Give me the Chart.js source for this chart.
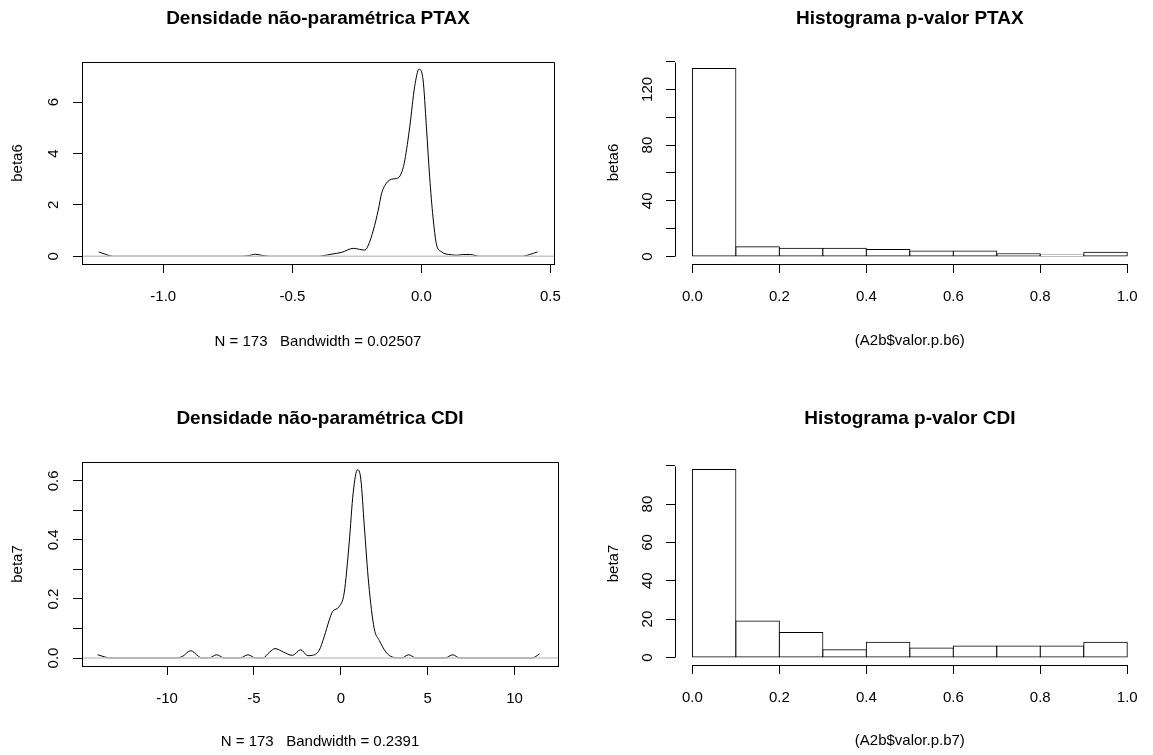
<!DOCTYPE html>
<html>
<head>
<meta charset="utf-8">
<script src="https://cdn.jsdelivr.net/npm/chart.js@4.4.1/dist/chart.umd.min.js"></script>
<style>
    body { margin: 0; background: #fff; width: 1153px; height: 755px; position: relative; overflow: hidden; }
    canvas { position: absolute; }
</style>
</head>
<body>
<canvas id="dens-ptax" width="576" height="390" style="left:0;top:0"></canvas>
<canvas id="hist-ptax" width="577" height="390" style="left:576px;top:0"></canvas>
<canvas id="dens-cdi" width="576" height="355" style="left:0;top:400px"></canvas>
<canvas id="hist-cdi" width="577" height="355" style="left:576px;top:400px"></canvas>
<script>
// density estimate, beta6 (PTAX)
const ptaxDensX = [-1.25, -1.225, -1.195, -0.70, -0.672, -0.643, -0.615, -0.585, -0.40, -0.35, -0.31, -0.263, -0.24, -0.219,
    -0.206, -0.186, -0.167, -0.154, -0.135, -0.115, -0.09, -0.075, -0.064, -0.045, -0.026, -0.009, 0.0066, 0.0195, 0.032,
    0.045, 0.058, 0.077, 0.116, 0.14, 0.16, 0.19, 0.225, 0.39, 0.42, 0.45];
const ptaxDensY = [0.17, 0.08, 0, 0, 0.02, 0.08, 0.03, 0, 0, 0.08, 0.15, 0.31, 0.27, 0.24,
    0.42, 1.02, 1.8, 2.45, 2.85, 3.0, 3.05, 3.3, 3.75, 5.04, 6.6, 7.28, 6.86, 5.04, 3.1,
    1.53, 0.49, 0.18, 0.06, 0.04, 0.07, 0.07, 0, 0, 0.07, 0.17];

// density estimate, beta7 (CDI)
const cdiDensX = [-14.0, -13.6, -13.3, -9.5, -9.1, -8.65, -8.2, -8.0, -7.6, -7.15, -6.7, -5.8, -5.35, -4.9, -4.5, -4.1,
    -3.79, -3.3, -2.79, -2.31, -1.9, -1.64, -1.25, -0.96, -0.67, -0.48, -0.1, 0.19, 0.48, 0.71, 0.96, 1.15, 1.35, 1.6,
    1.92, 2.21, 2.6, 2.98, 3.5, 3.9, 4.33, 6.0, 6.44, 6.85, 11.0, 11.44];
const cdiDensY = [0.011, 0.004, 0, 0, 0.006, 0.025, 0.006, 0, 0, 0.011, 0, 0, 0.011, 0, 0, 0.02,
    0.032, 0.02, 0.009, 0.028, 0.008, 0.009, 0.026, 0.072, 0.128, 0.157, 0.174, 0.22, 0.39, 0.56, 0.638, 0.606, 0.447, 0.254,
    0.10, 0.06, 0.02, 0.003, 0, 0.011, 0, 0, 0.011, 0, 0, 0.014];

// p-value histograms
const histBreaks = [0, 0.1, 0.2, 0.3, 0.4, 0.5, 0.6, 0.7, 0.8, 0.9, 1.0];
const ptaxCounts = [135, 7, 6, 6, 5, 4, 4, 2, 1, 3];
const cdiCounts = [98, 19, 13, 4, 8, 5, 6, 6, 6, 8];

// axes
const ptaxDensXTicks = [-1.0, -0.5, 0.0, 0.5];
const ptaxDensYTicks = [0, 2, 4, 6];
const ptaxDensYLabels = [0, 2, 4, 6];
const cdiDensXTicks = [-10, -5, 0, 5, 10];
const cdiDensYTicks = [0, 0.1, 0.2, 0.3, 0.4, 0.5, 0.6];
const cdiDensYLabels = [0, 0.2, 0.4, 0.6];
const histXTicks = [0, 0.2, 0.4, 0.6, 0.8, 1.0];
const ptaxHistYTicks = [0, 20, 40, 60, 80, 100, 120, 140];
const ptaxHistYLabels = [0, 40, 80, 120];
const cdiHistYTicks = [0, 20, 40, 60, 80, 100];
const cdiHistYLabels = [0, 20, 40, 60, 80];

const FONT = '"Liberation Sans", Arial, sans-serif';
const px = v => Math.round(v) + 0.5;

// R-like axes: box for density plots, short axis lines for hist, rotated y labels
const rAxes = {
    id: 'rAxes',
    afterDraw(chart, args, opts) {
        const { ctx, chartArea: a } = chart;
        const { x, y } = chart.scales;
        ctx.save();
        ctx.strokeStyle = '#000';
        ctx.lineWidth = 1;
        ctx.beginPath();
        if (opts.box) {
            ctx.rect(px(a.left), px(a.top), Math.round(a.right - a.left), Math.round(a.bottom - a.top));
        } else {
            const xt = x.ticks, yt = y.ticks;
            ctx.moveTo(px(x.getPixelForValue(xt[0].value)), px(a.bottom));
            ctx.lineTo(px(x.getPixelForValue(xt[xt.length - 1].value)), px(a.bottom));
            ctx.moveTo(px(a.left), px(y.getPixelForValue(yt[0].value)));
            ctx.lineTo(px(a.left), px(y.getPixelForValue(yt[yt.length - 1].value)));
        }
        ctx.stroke();

        ctx.fillStyle = '#000';
        ctx.font = '15px ' + FONT;
        ctx.textAlign = 'center';
        ctx.textBaseline = 'middle';
        opts.yLabels.forEach(v => {
            ctx.save();
            ctx.translate(a.left - opts.labelOffset, y.getPixelForValue(v));
            ctx.rotate(-Math.PI / 2);
            ctx.fillText(opts.fmt(v), 0, 0);
            ctx.restore();
        });
        ctx.restore();
    }
};

const makePanel = (id, p) => {
    const canvas = document.getElementById(id);
    const W = canvas.width, H = canvas.height;
    const tickFont = { family: FONT, size: 15 };

    return new Chart(canvas.getContext('2d'), {
        type: p.type,
        data: { datasets: p.datasets },
        options: {
            responsive: false,
            animation: false,
            layout: { autoPadding: false, padding: { left: 0, top: 0, right: W - p.area.right, bottom: 0 } },
            scales: {
                x: {
                    type: 'linear',
                    min: p.xMin,
                    max: p.xMax,
                    offset: false,
                    afterBuildTicks: s => { s.ticks = p.xTicks.map(v => ({ value: v })); },
                    afterFit: s => { s.height = H - p.area.bottom; },
                    border: { display: p.box, color: '#000', width: 1 },
                    grid: { display: true, offset: false, drawOnChartArea: false, drawTicks: true, tickLength: 9, color: '#000', lineWidth: 1 },
                    ticks: { color: '#000', font: tickFont, padding: 15, autoSkip: false, maxRotation: 0, callback: p.xFmt },
                    title: { display: true, text: p.xTitle, color: '#000', font: tickFont, padding: { top: 0, bottom: p.xTitlePad } }
                },
                y: {
                    type: 'linear',
                    min: p.yMin,
                    max: p.yMax,
                    afterBuildTicks: s => { s.ticks = p.yTicks.map(v => ({ value: v })); },
                    afterFit: s => { s.width = p.area.left; },
                    border: { display: p.box, color: '#000', width: 1 },
                    grid: { display: true, drawOnChartArea: false, drawTicks: true, tickLength: 9, color: '#000', lineWidth: 1 },
                    ticks: { display: false },
                    title: { display: true, text: p.yTitle, color: '#000', font: tickFont, padding: { top: p.yTitlePad, bottom: 0 } }
                }
            },
            plugins: {
                legend: { display: false },
                tooltip: { enabled: false },
                title: {
                    display: true,
                    fullSize: false,
                    text: p.title,
                    color: '#000',
                    font: { family: FONT, size: 19, weight: 'bold' },
                    padding: { top: 7, bottom: p.area.top - 7 - 22.8 }
                },
                rAxes: { box: p.box, yLabels: p.yLabels, fmt: p.yFmt, labelOffset: p.labelOffset }
            }
        },
        plugins: [rAxes]
    });
};

const densityDatasets = (xs, ys, xMin, xMax) => [
    {
        data: xs.map((x, i) => ({ x, y: ys[i] })),
        borderColor: '#000',
        borderWidth: 1,
        pointRadius: 0,
        cubicInterpolationMode: 'monotone',
        order: 1
    },
    {
        // zero line drawn over the curve, as plot.density does
        data: [{ x: xMin, y: 0 }, { x: xMax, y: 0 }],
        borderColor: '#c8c8c8',
        borderWidth: 1.5,
        pointRadius: 0,
        order: 0
    }
];

const histDatasets = counts => [{
    data: counts.map((c, i) => ({ x: (histBreaks[i] + histBreaks[i + 1]) / 2, y: c })),
    backgroundColor: '#fff',
    borderColor: '#000',
    borderWidth: 1,
    borderSkipped: false,
    inflateAmount: 0.5,
    barPercentage: 1,
    categoryPercentage: 1
}];

makePanel('dens-ptax', {
    type: 'line',
    title: 'Densidade não-paramétrica PTAX',
    xTitle: 'N = 173   Bandwidth = 0.02507',
    yTitle: 'beta6',
    area: { left: 82, top: 62, right: 558, bottom: 264 },
    xMin: -1.315, xMax: 0.514, yMin: -0.3, yMax: 7.56,
    xTicks: ptaxDensXTicks, yTicks: ptaxDensYTicks, yLabels: ptaxDensYLabels,
    xFmt: v => v.toFixed(1), yFmt: v => String(v),
    xTitlePad: 39, yTitlePad: 9, labelOffset: 28, box: true,
    datasets: densityDatasets(ptaxDensX, ptaxDensY, -1.315, 0.514)
});

makePanel('hist-ptax', {
    type: 'bar',
    title: 'Histograma p-valor PTAX',
    xTitle: '(A2b$valor.p.b6)',
    yTitle: 'beta6',
    area: { left: 99, top: 61, right: 569, bottom: 264 },
    xMin: -0.04, xMax: 1.04, yMin: -5.4, yMax: 140.4,
    xTicks: histXTicks, yTicks: ptaxHistYTicks, yLabels: ptaxHistYLabels,
    xFmt: v => v.toFixed(1), yFmt: v => String(v),
    xTitlePad: 40, yTitlePad: 29, labelOffset: 27, box: false,
    datasets: histDatasets(ptaxCounts)
});

makePanel('dens-cdi', {
    type: 'line',
    title: 'Densidade não-paramétrica CDI',
    xTitle: 'N = 173   Bandwidth = 0.2391',
    yTitle: 'beta7',
    area: { left: 82, top: 62, right: 558, bottom: 266 },
    xMin: -14.9, xMax: 12.5, yMin: -0.027, yMax: 0.664,
    xTicks: cdiDensXTicks, yTicks: cdiDensYTicks, yLabels: cdiDensYLabels,
    xFmt: v => String(v), yFmt: v => v.toFixed(1),
    xTitlePad: 4, yTitlePad: 9, labelOffset: 28, box: true,
    datasets: densityDatasets(cdiDensX, cdiDensY, -14.9, 12.5)
});

makePanel('hist-cdi', {
    type: 'bar',
    title: 'Histograma p-valor CDI',
    xTitle: '(A2b$valor.p.b7)',
    yTitle: 'beta7',
    area: { left: 99, top: 62, right: 569, bottom: 265 },
    xMin: -0.04, xMax: 1.04, yMin: -3.92, yMax: 101.92,
    xTicks: histXTicks, yTicks: cdiHistYTicks, yLabels: cdiHistYLabels,
    xFmt: v => v.toFixed(1), yFmt: v => String(v),
    xTitlePad: 5, yTitlePad: 29, labelOffset: 27, box: false,
    datasets: histDatasets(cdiCounts)
});
</script>
</body>
</html>
